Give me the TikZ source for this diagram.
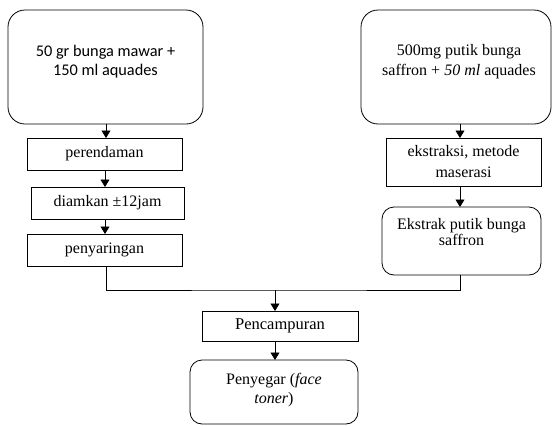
\documentclass[tikz,border=0pt]{standalone}
\usepackage{fontspec}
\setmainfont{Liberation Serif}
\newfontfamily\calfont{Carlito}
\usetikzlibrary{arrows.meta,calc}
\begin{document}
\begin{tikzpicture}[x=1pt,y=-1pt,
  every node/.style={inner sep=0pt,outer sep=0pt},
  box/.style={draw,line width=0.8pt,rectangle},
  rbox/.style={draw,line width=0.8pt,rectangle,rounded corners=#1},
  txt/.style={align=center,font=\fontsize{16}{19}\selectfont},
  ln/.style={line width=0.8pt},
  arr/.style={line width=0.8pt,-{Triangle[length=7.5pt,width=9pt]}}]
\useasboundingbox (0,0) rectangle (552,426);
% left column
\node[rbox=17pt,minimum width=195pt,minimum height=114pt] (A) at (105.5,67) {};
\node[txt,font=\calfont\fontsize{16.3}{19}\selectfont] (At) at (105.5,62) {50 gr bunga mawar +\\150 ml aquades};
\node[box,minimum width=155pt,minimum height=32pt,txt] (per) at (104.5,154) {perendaman};
\node[box,minimum width=153pt,minimum height=32pt,txt] (dia) at (107.5,203) {diamkan ±12jam};
\node[box,minimum width=155pt,minimum height=32pt,txt] (pen) at (104.5,250) {penyaringan};
% right column
\node[rbox=17pt,minimum width=190pt,minimum height=114pt] (B) at (456,67) {};
\node[txt,font=\fontsize{16}{20}\selectfont] (Bt) at (459,62) {500mg putik bunga\\saffron + \textit{50 ml} aquades};
\node[box,minimum width=155pt,minimum height=48pt,txt,font=\fontsize{16}{21}\selectfont] (eks) at (463.5,162) {ekstraksi, metode\\maserasi};
\node[rbox=12pt,minimum width=159pt,minimum height=68pt] (ekt) at (461.5,241) {};
\node[txt,font=\fontsize{16}{16}\selectfont] (ektt) at (461.5,232) {Ekstrak putik bunga\\saffron};
% bottom
\node[box,minimum width=156pt,minimum height=30pt,txt,font=\fontsize{16.5}{19}\selectfont] (pc) at (280,326) {Pencampuran};
\node[rbox=12pt,minimum width=168pt,minimum height=64pt] (py) at (274,392) {};
\node[txt,font=\fontsize{16}{19}\selectfont] (pyt) at (274,390) {Penyegar (\textit{face}\\\textit{toner})};
% coordinates
\coordinate (lx) at (106,0);
\coordinate (lx2) at (105,0);
\coordinate (rx) at (460,0);
\coordinate (m) at (275,290);
% connectors
\draw[arr] (lx |- A.south) -- (lx |- per.north);
\draw[arr] (lx2 |- per.south) -- (lx2 |- dia.north);
\draw[arr] (lx2 |- dia.south) -- (lx2 |- pen.north);
\draw[arr] (rx |- B.south) -- (rx |- eks.north);
\draw[arr] (rx |- eks.south) -- (rx |- ekt.north);
\draw[ln] (lx |- pen.south) |- (m) -| (rx |- ekt.south);
\draw[arr] (m) -- (m |- pc.north);
\draw[arr] (m |- pc.south) -- (m |- py.north);
\end{tikzpicture}
\end{document}
